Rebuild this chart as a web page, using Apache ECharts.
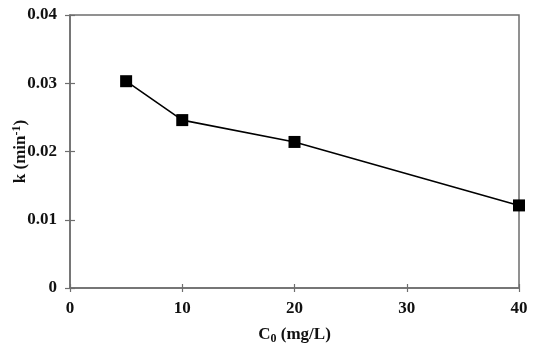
<!DOCTYPE html>
<html>
<head>
<meta charset="utf-8">
<script src="https://cdn.jsdelivr.net/npm/echarts@6/dist/echarts.min.js"></script>
<style>html,body{margin:0;padding:0;background:#fff}#c{width:550px;height:350px}</style>
</head>
<body>
<div id="c"></div>
<script>
var xValues = [5, 10, 20, 40];
var kValues = [0.0303, 0.0246, 0.0214, 0.0121];
var xTicks = [0, 10, 20, 30, 40];
var yTicks = [0, 0.01, 0.02, 0.03, 0.04];

var font = 'Liberation Serif';
var axisColor = '#6e6e6e';
var textColor = '#111';
var seriesData = xValues.map(function (x, i) { return [x, kValues[i]]; });

function yLabel(v) { return v === 0 ? '0' : v.toFixed(2); }

var chart = echarts.init(document.getElementById('c'));
chart.setOption({
  animation: false,
  backgroundColor: '#fff',
  grid: { left: 70, right: 31, top: 15, bottom: 62, containLabel: false, outerBoundsMode: 'none',
    show: true, borderColor: axisColor, borderWidth: 1.5, backgroundColor: 'transparent' },
  xAxis: [{
    type: 'value', min: xTicks[0], max: xTicks[xTicks.length - 1], interval: 10, position: 'bottom',
    name: 'C{sub|0} (mg/L)', nameLocation: 'middle', nameGap: 37, nameMoveOverlap: false,
    nameTextStyle: { fontFamily: font, fontWeight: 'bold', fontSize: 17, color: textColor,
      rich: { sub: { fontFamily: font, fontWeight: 'bold', fontSize: 12, color: textColor, padding: [8, 0, 0, 0] } } },
    axisLine: { show: true, lineStyle: { color: axisColor, width: 1.5 } },
    axisTick: { show: true, inside: false, length: 4, lineStyle: { color: axisColor, width: 1.2 } },
    axisLabel: { margin: 12, fontFamily: font, fontWeight: 'bold', fontSize: 17, color: textColor },
    splitLine: { show: false }
  }, {
    type: 'value', min: xTicks[0], max: xTicks[xTicks.length - 1], interval: 10, position: 'bottom', offset: 0,
    axisLine: { show: false }, axisLabel: { show: false }, splitLine: { show: false },
    axisTick: { show: true, inside: true, length: 4, lineStyle: { color: axisColor, width: 1.2 } }
  }],
  yAxis: [{
    type: 'value', min: yTicks[0], max: yTicks[yTicks.length - 1], interval: 0.01, position: 'left',
    name: 'k (min{sup|-1})', nameLocation: 'middle', nameGap: 39, nameRotate: 90, nameMoveOverlap: false,
    nameTextStyle: { fontFamily: font, fontWeight: 'bold', fontSize: 17, color: textColor,
      rich: { sup: { fontFamily: font, fontWeight: 'bold', fontSize: 12, color: textColor, padding: [0, 0, 8, 0] } } },
    axisLine: { show: true, lineStyle: { color: axisColor, width: 1.5 } },
    axisTick: { show: true, inside: false, length: 5, lineStyle: { color: axisColor, width: 1.2 } },
    axisLabel: { margin: 13, fontFamily: font, fontWeight: 'bold', fontSize: 17, color: textColor, formatter: yLabel },
    splitLine: { show: false }
  }, {
    type: 'value', min: yTicks[0], max: yTicks[yTicks.length - 1], interval: 0.01, position: 'left', offset: 0,
    axisLine: { show: false }, axisLabel: { show: false }, splitLine: { show: false },
    axisTick: { show: true, inside: true, length: 5, lineStyle: { color: axisColor, width: 1.2 } }
  }],
  series: [{
    type: 'line', data: seriesData, xAxisIndex: 0, yAxisIndex: 0,
    symbol: 'rect', symbolSize: 12, showAllSymbol: true,
    lineStyle: { color: '#000', width: 1.6 },
    itemStyle: { color: '#000' }
  }]
});
</script>
</body>
</html>
